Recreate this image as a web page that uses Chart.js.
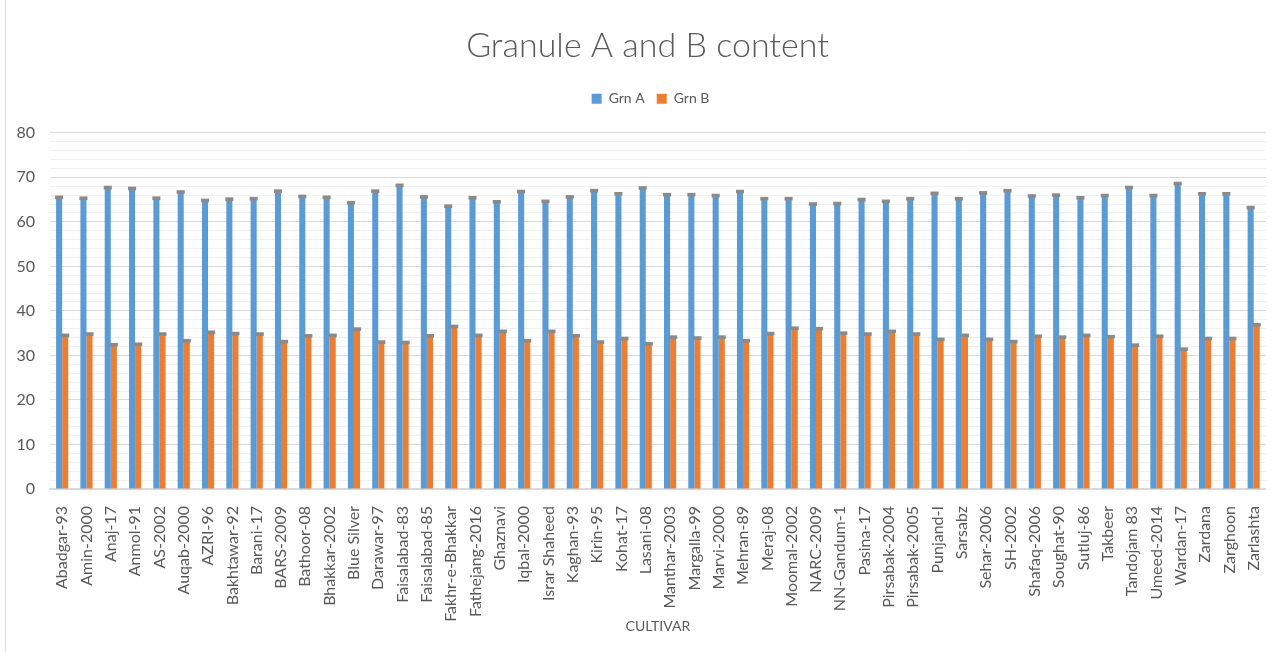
<!DOCTYPE html>
<html>
<head>
<meta charset="utf-8">
<title>Granule A and B content</title>
<script src="https://cdn.jsdelivr.net/npm/chart.js@4.4.1/dist/chart.umd.min.js"></script>
<style>
  html, body { margin: 0; padding: 0; background: #fff; }
  #marco { position: relative; width: 1282px; height: 652px; }
  #marco .borde { position: absolute; left: 5px; top: 0; bottom: 0; border-left: 1px solid #d9d9d9; }
</style>
</head>
<body>
<div id="marco">
  <canvas id="graficaGranulos" width="1282" height="652"></canvas>
  <div class="borde"></div>
</div>
<script>
// ===================== DATOS =====================
const cultivares = [
  'Abadgar-93','Amin-2000','Anaj-17','Anmol-91','AS-2002','Auqab-2000','AZRI-96','Bakhtawar-92',
  'Barani-17','BARS-2009','Bathoor-08','Bhakkar-2002','Blue Silver','Darawar-97','Faisalabad-83',
  'Faisalabad-85','Fakhr-e-Bhakkar','Fathejang-2016','Ghaznavi','Iqbal-2000','Israr Shaheed',
  'Kaghan-93','Kirin-95','Kohat-17','Lasani-08','Manthar-2003','Margalla-99','Marvi-2000',
  'Mehran-89','Meraj-08','Moomal-2002','NARC-2009','NN-Gandum-1','Pasina-17','Pirsabak-2004',
  'Pirsabak-2005','Punjand-I','Sarsabz','Sehar-2006','SH-2002','Shafaq-2006','Soughat-90',
  'Sutluj-86','Takbeer','Tandojam 83','Umeed-2014','Wardan-17','Zardana','Zarghoon','Zarlashta'
];

const grnA = [
  65.5, 65.3, 67.7, 67.5, 65.3, 66.7, 64.8, 65.1, 65.2, 66.9, 65.7, 65.5,
  64.3, 66.9, 68.2, 65.6, 63.5, 65.4, 64.5, 66.8, 64.6, 65.6, 67.0, 66.3, 67.6,
  66.1, 66.1, 65.9, 66.8, 65.2, 65.2, 64.0, 64.1, 65.0, 64.6, 65.2, 66.4, 65.2,
  66.5, 67.0, 65.8, 66.0, 65.4, 65.9, 67.7, 65.9, 68.6, 66.3, 66.3, 63.2
];

const grnB = [
  34.5, 34.8, 32.4, 32.5, 34.8, 33.3, 35.2, 34.9, 34.8, 33.1, 34.4, 34.5, 35.9,
  33.0, 32.9, 34.4, 36.5, 34.5, 35.4, 33.3, 35.4, 34.4, 33.0, 33.8, 32.6,
  34.1, 33.9, 34.1, 33.3, 34.9, 36.1, 36.0, 35.0, 34.8, 35.4, 34.8, 33.6, 34.5,
  33.6, 33.1, 34.3, 34.1, 34.5, 34.2, 32.3, 34.3, 31.4, 33.8, 33.8, 36.9
];

const margenError = 0.3;   // barra de error (+/-) sobre cada columna

const ticksY = [0, 10, 20, 30, 40, 50, 60, 70, 80];

// ===================== PLUGINS =====================
const barrasError = {
  id: 'barrasError',
  afterDatasetsDraw(chart){
    const ctx = chart.ctx;
    const y = chart.scales.y;
    ctx.save();
    chart.data.datasets.forEach((ds, i) => {
      const meta = chart.getDatasetMeta(i);
      meta.data.forEach((bar, j) => {
        const v = ds.data[j];
        const arriba = y.getPixelForValue(v + margenError);
        const abajo = y.getPixelForValue(v - margenError);
        const w = bar.width + 2;
        ctx.fillStyle = '#8a8a8a';
        ctx.fillRect(bar.x - w/2, arriba - 0.5, w, abajo - arriba + 1);
      });
    });
    ctx.restore();
  }
};

// espacio extra debajo de la leyenda
const margenLeyenda = {
  id: 'margenLeyenda',
  beforeInit(chart){
    const fitOriginal = chart.legend.fit;
    chart.legend.fit = function(){
      fitOriginal.bind(chart.legend)();
      this.height += 17;
    };
  },
  // título y leyenda centrados sobre el área de la gráfica, no sobre el lienzo
  afterLayout(chart){
    chart.titleBlock.left += 12;
    chart.titleBlock.right += 12;
    chart.legend.left += 15;
    chart.legend.right += 15;
  }
};

// ===================== GRÁFICA =====================
const fuente = 'Lato, "Open Sans", sans-serif';
const gris = '#595959';

new Chart(document.getElementById('graficaGranulos'), {
  type: 'bar',
  data: {
    labels: cultivares,
    datasets: [
      { label: 'Grn A', data: grnA, backgroundColor: '#5B9BD5', categoryPercentage: 0.5, barPercentage: 1 },
      { label: 'Grn B', data: grnB, backgroundColor: '#ED7D31', categoryPercentage: 0.5, barPercentage: 1 }
    ]
  },
  plugins: [barrasError, margenLeyenda],
  options: {
    responsive: false,
    animation: false,
    layout: { padding: { left: 0, right: 11, top: 0, bottom: 0 } },
    plugins: {
      title: {
        display: true,
        text: 'Granule A and B content',
        color: gris,
        font: { family: fuente, size: 34, weight: '300' },
        padding: { top: 26, bottom: 13 }
      },
      legend: {
        position: 'top',
        labels: {
          color: gris,
          font: { family: fuente, size: 14 },
          boxWidth: 10,
          boxHeight: 10,
          padding: 12
        }
      },
      tooltip: { enabled: false }
    },
    scales: {
      x: {
        grid: { display: false },
        border: { color: '#d9d9d9', width: 1.5 },
        ticks: {
          color: gris,
          font: { family: fuente, size: 16 },
          autoSkip: false,
          minRotation: 90,
          maxRotation: 90,
          padding: 9
        },
        title: {
          display: true,
          text: 'CULTIVAR',
          color: gris,
          font: { family: fuente, size: 14 },
          padding: { top: 0, bottom: 17 }
        },
        afterFit(s){ s.height = 163; }
      },
      y: {
        min: 0,
        max: 80,
        border: { display: false },
        grid: {
          drawTicks: false,
          color: c => ticksY.includes(c.tick.value) ? '#d9d9d9' : '#f0f0f0'
        },
        ticks: {
          stepSize: 2,
          autoSkip: false,
          color: gris,
          font: { family: fuente, size: 16 },
          padding: 15,
          callback: v => ticksY.includes(v) ? v : ''
        },
        afterFit(s){ s.width = 50; }
      }
    }
  }
});
</script>
</body>
</html>
